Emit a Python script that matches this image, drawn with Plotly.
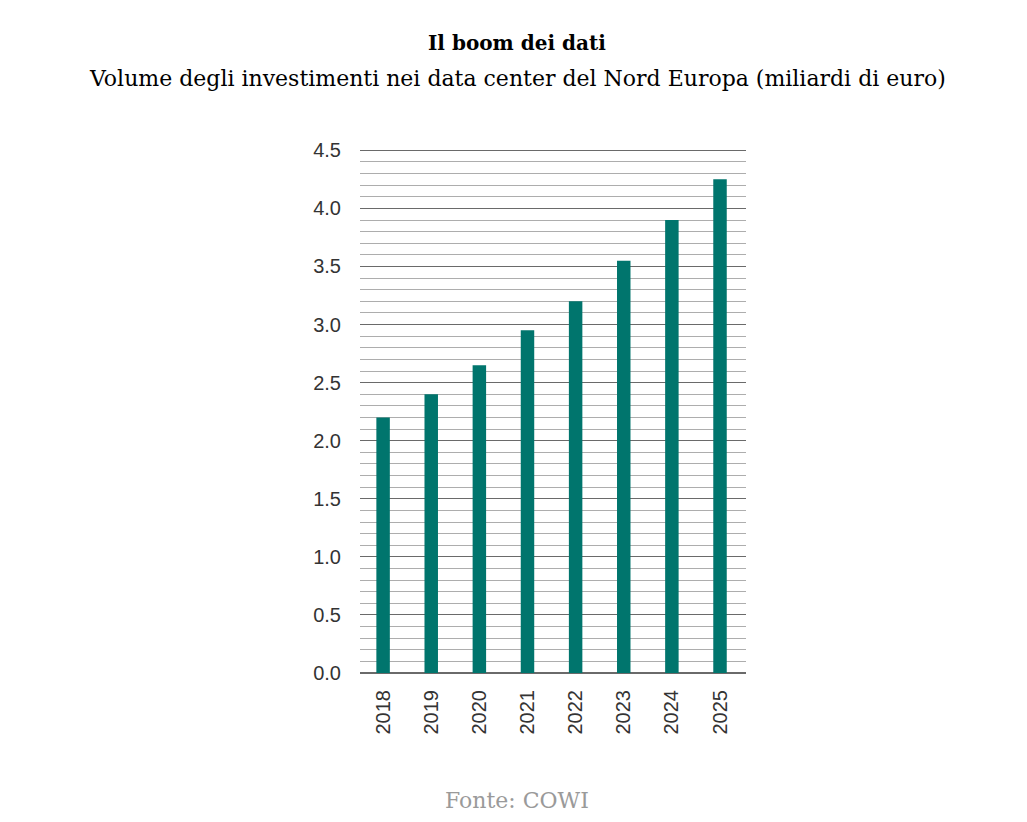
import plotly.graph_objects as go

years = ["2018", "2019", "2020", "2021", "2022", "2023", "2024", "2025"]
values = [2.2, 2.4, 2.65, 2.95, 3.2, 3.55, 3.9, 4.25]
title = "<b>Il boom dei dati</b>"
subtitle = "Volume degli investimenti nei data center del Nord Europa (miliardi di euro)"
source = "Fonte: COWI"

serif = "DejaVu Serif, serif"
sans = "Liberation Sans, Arial, sans-serif"

fig = go.Figure(go.Bar(x=years, y=values, marker=dict(color="#00756D", line_width=0), width=0.28))

W, H = 1027, 822
L, R, T, B = 352, 289, 140, 157
fig.update_layout(
    width=W, height=H,
    margin=dict(l=L, r=R, t=T, b=B),
    paper_bgcolor="white", plot_bgcolor="white",
    showlegend=False,
    xaxis=dict(type="category", range=[-0.48, 7.54], tickangle=-90, showgrid=False,
               tickfont=dict(family=sans, size=20, color="#333333"), showline=False, ticks="",
               ticklabelstandoff=12),
    yaxis=dict(range=[0, 4.52], tickvals=[0, 0.5, 1, 1.5, 2, 2.5, 3, 3.5, 4, 4.5],
               tickformat=".1f", showgrid=True, gridcolor="#6a6a6a", gridwidth=1,
               zeroline=True, zerolinecolor="#6a6a6a", zerolinewidth=1.5,
               tickfont=dict(family=sans, size=20, color="#333333"), ticklabelstandoff=18,
               minor=dict(tick0=0, dtick=0.1, showgrid=True, gridcolor="#adadad", gridwidth=1)),
    annotations=[
        dict(text=title, x=0.5, y=35, xref="paper", yref="paper", showarrow=False,
             font=dict(family=serif, size=20, color="#000000")),
        dict(text=subtitle, x=0.5, y=70, xref="paper", yref="paper", showarrow=False,
             font=dict(family=serif, size=22, color="#000000")),
        dict(text=source, x=0.5, y=792, xref="paper", yref="paper", showarrow=False,
             font=dict(family=serif, size=22, color="#9a9a9a")),
    ],
)

# convert pixel y of annotations into paper coords
ph = H - T - B
pw = W - L - R
for a in fig.layout.annotations:
    a.y = (H - B - a.y) / ph
    a.yanchor = "middle"
    a.x = (509 - L) / pw
    a.xanchor = "center"

fig.write_html("out.html")
